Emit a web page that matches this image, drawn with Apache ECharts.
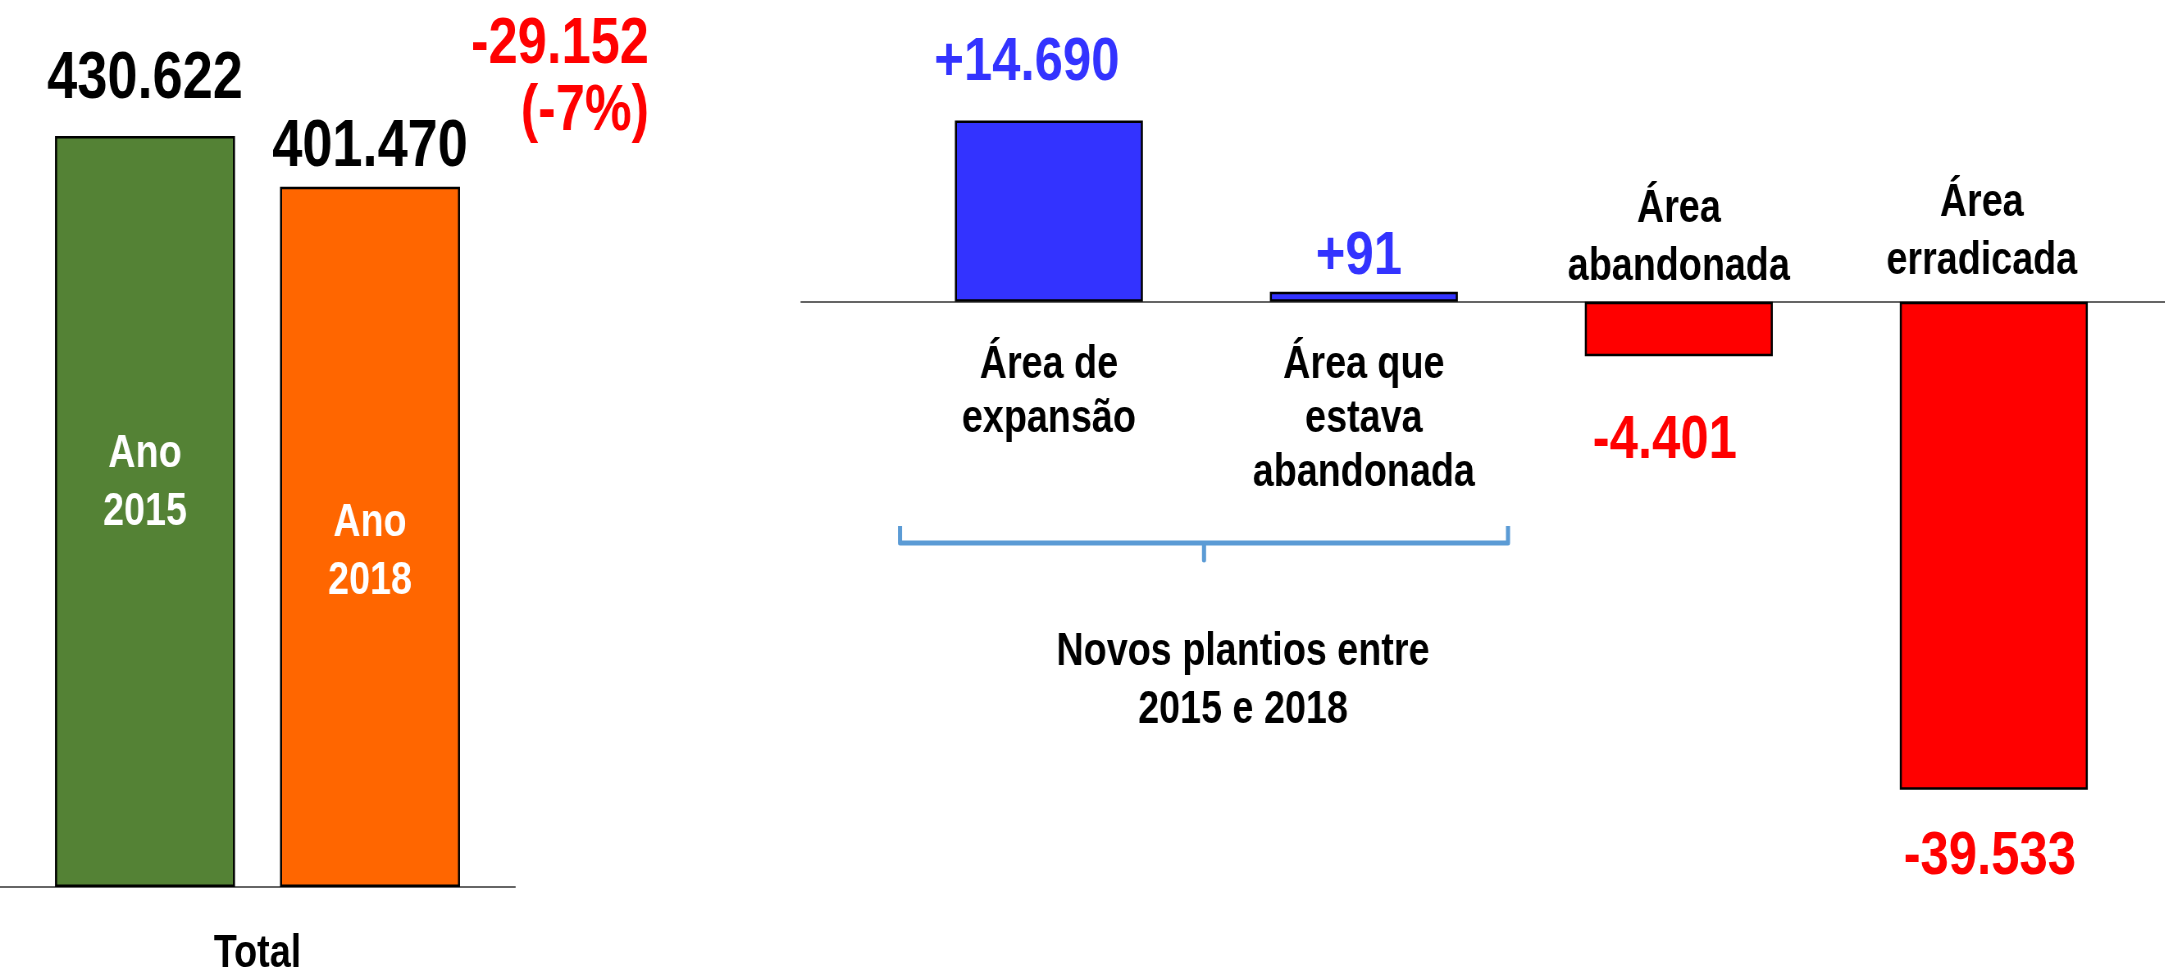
<!DOCTYPE html>
<html>
<head>
<meta charset="utf-8">
<title>Área plantada 2015 x 2018</title>
<script src="https://cdn.jsdelivr.net/npm/echarts@6/dist/echarts.min.js"></script>
<style>
  html, body { margin: 0; padding: 0; background: #fff; overflow: hidden; }
  /* sem fonte estreita instalada: desenha mais largo e comprime na horizontal */
  #chart { width: 2640px; height: 977px; transform: scaleX(0.82); transform-origin: 0 0; }
</style>
</head>
<body>
<div id="chart"></div>
<script>
// dados
const totalCategory = ['Total']
const yearNames = ['Ano\n2015', 'Ano\n2018']
const yearValues = [430622, 401470]
const changeNames = ['Área de\nexpansão', 'Área que\nestava\nabandonada', 'Área\nabandonada', 'Área\nerradicada']
const changeValues = [14690, 91, -4401, -39533]
const groupNote = 'Novos plantios entre\n2015 e 2018'

const sx = 0.82
const px = (x) => x / sx
const font = "'Liberation Sans', Arial, sans-serif"
const yearColors = ['#548235', '#FF6600']
const yearLabelGap = [23, 6]
const yearNamePos = ['46.3%', '52.2%']
const blue = '#3333FF'
const red = '#FF0000'
// afastamento dos rótulos (px na tela)
const valueGap = [27, 4, 54, 36]
const valueShift = [-22, -5, -14, -4]
const nameGap = [36, 36, 6, 12]
const nameShift = [0, 0, 0, -12]

// 14690 -> 14.690
function fmt (v, sign) {
  let s = Math.abs(v).toString().replace(/\B(?=(\d{3})+(?!\d))/g, '.')
  return (v < 0 ? '-' : (sign ? '+' : '')) + s
}

const diff = yearValues[1] - yearValues[0]
const diffPct = Math.round(diff / yearValues[0] * 100)

let series = []
yearValues.forEach((v, i) => {
  series.push({
    name: yearNames[i],
    type: 'bar',
    xAxisIndex: 0,
    yAxisIndex: 0,
    barWidth: px(180),
    barGap: '25%',
    data: [v],
    itemStyle: { color: yearColors[i], borderColor: '#000', borderWidth: 2.5 },
    label: {
      show: true,
      position: 'top',
      distance: yearLabelGap[i],
      fontFamily: font,
      fontWeight: 'bold',
      fontSize: 66,
      color: '#000',
      formatter: (p) => fmt(p.value)
    }
  })
})
// nomes dos anos dentro das barras
yearValues.forEach((v, i) => {
  series.push({
    name: yearNames[i],
    type: 'bar',
    xAxisIndex: 1,
    yAxisIndex: 0,
    barWidth: px(180),
    barGap: '25%',
    silent: true,
    data: [v],
    itemStyle: { color: 'rgba(0,0,0,0)' },
    label: {
      show: true,
      position: ['50%', yearNamePos[i]],
      align: 'center',
      verticalAlign: 'middle',
      fontFamily: font,
      fontWeight: 'bold',
      fontSize: 46,
      lineHeight: 58,
      color: '#fff',
      formatter: '{a}'
    }
  })
})
series.push({
  name: 'Variação',
  type: 'bar',
  xAxisIndex: 2,
  yAxisIndex: 1,
  barWidth: px(188),
  barGap: '-100%',
  barMinHeight: 10,
  data: changeValues.map((v, i) => ({
    name: changeNames[i],
    value: [i, v],
    itemStyle: { color: v >= 0 ? blue : red },
    label: {
      position: v >= 0 ? 'top' : 'bottom',
      distance: valueGap[i],
      offset: [px(valueShift[i]), 0],
      color: v >= 0 ? blue : red
    }
  })),
  itemStyle: { borderColor: '#000', borderWidth: 2.5 },
  label: {
    show: true,
    fontFamily: font,
    fontWeight: 'bold',
    fontSize: 62,
    formatter: (p) => fmt(p.value[1], true)
  }
})
// nomes das categorias, do lado oposto da barra
series.push({
  name: 'Categorias',
  type: 'bar',
  xAxisIndex: 2,
  yAxisIndex: 1,
  barWidth: px(188),
  barGap: '-100%',
  barMinHeight: 10,
  silent: true,
  data: changeValues.map((v, i) => ({
    name: changeNames[i],
    value: [i, v],
    label: {
      position: v >= 0 ? 'bottom' : 'top',
      distance: nameGap[i],
      offset: [px(nameShift[i]), 0],
      lineHeight: v >= 0 ? 54 : 58
    }
  })),
  itemStyle: { color: 'rgba(0,0,0,0)' },
  label: {
    show: true,
    fontFamily: font,
    fontWeight: 'bold',
    fontSize: 46,
    color: '#000',
    formatter: '{b}'
  }
})

const option = {
  animation: false,
  grid: [
    { left: 0, top: 15, width: px(515), height: 880 },
    { left: px(801), top: 55, right: 0, height: 864 }
  ],
  xAxis: [
    {
      type: 'category',
      gridIndex: 0,
      data: totalCategory,
      axisTick: { show: false },
      axisLine: { lineStyle: { color: '#666', width: 2 } },
      axisLabel: { color: '#000', fontFamily: font, fontWeight: 'bold', fontSize: 46, margin: 44 }
    },
    { type: 'category', gridIndex: 0, data: totalCategory, show: false },
    {
      type: 'value',
      gridIndex: 1,
      min: -0.787,
      max: 3.543,
      axisLine: { onZero: true, lineStyle: { color: '#333', width: 1.5 } },
      axisTick: { show: false },
      axisLabel: { show: false },
      splitLine: { show: false }
    }
  ],
  yAxis: [
    { type: 'value', gridIndex: 0, min: 0, max: 500000, show: false },
    { type: 'value', gridIndex: 1, min: -50000, max: 20000, show: false }
  ],
  graphic: [
    {
      type: 'text',
      x: px(649),
      y: 12,
      style: {
        text: fmt(diff) + '\n(' + diffPct + '%)',
        align: 'right',
        verticalAlign: 'top',
        font: 'bold 64px ' + font,
        lineHeight: 67,
        fill: red
      }
    },
    {
      type: 'polyline',
      shape: { points: [[px(900), 526], [px(900), 543], [px(1204), 543], [px(1204), 560], [px(1204), 543], [px(1508), 543], [px(1508), 526]] },
      style: { fill: null, stroke: '#5B9BD5', lineWidth: 5, lineJoin: 'round' }
    },
    {
      type: 'text',
      x: px(1243),
      y: 681,
      style: {
        text: groupNote,
        align: 'center',
        verticalAlign: 'middle',
        font: 'bold 46px ' + font,
        lineHeight: 58,
        fill: '#000'
      }
    }
  ],
  series: series
}

const chart = echarts.init(document.getElementById('chart'))
chart.setOption(option)
</script>
</body>
</html>
